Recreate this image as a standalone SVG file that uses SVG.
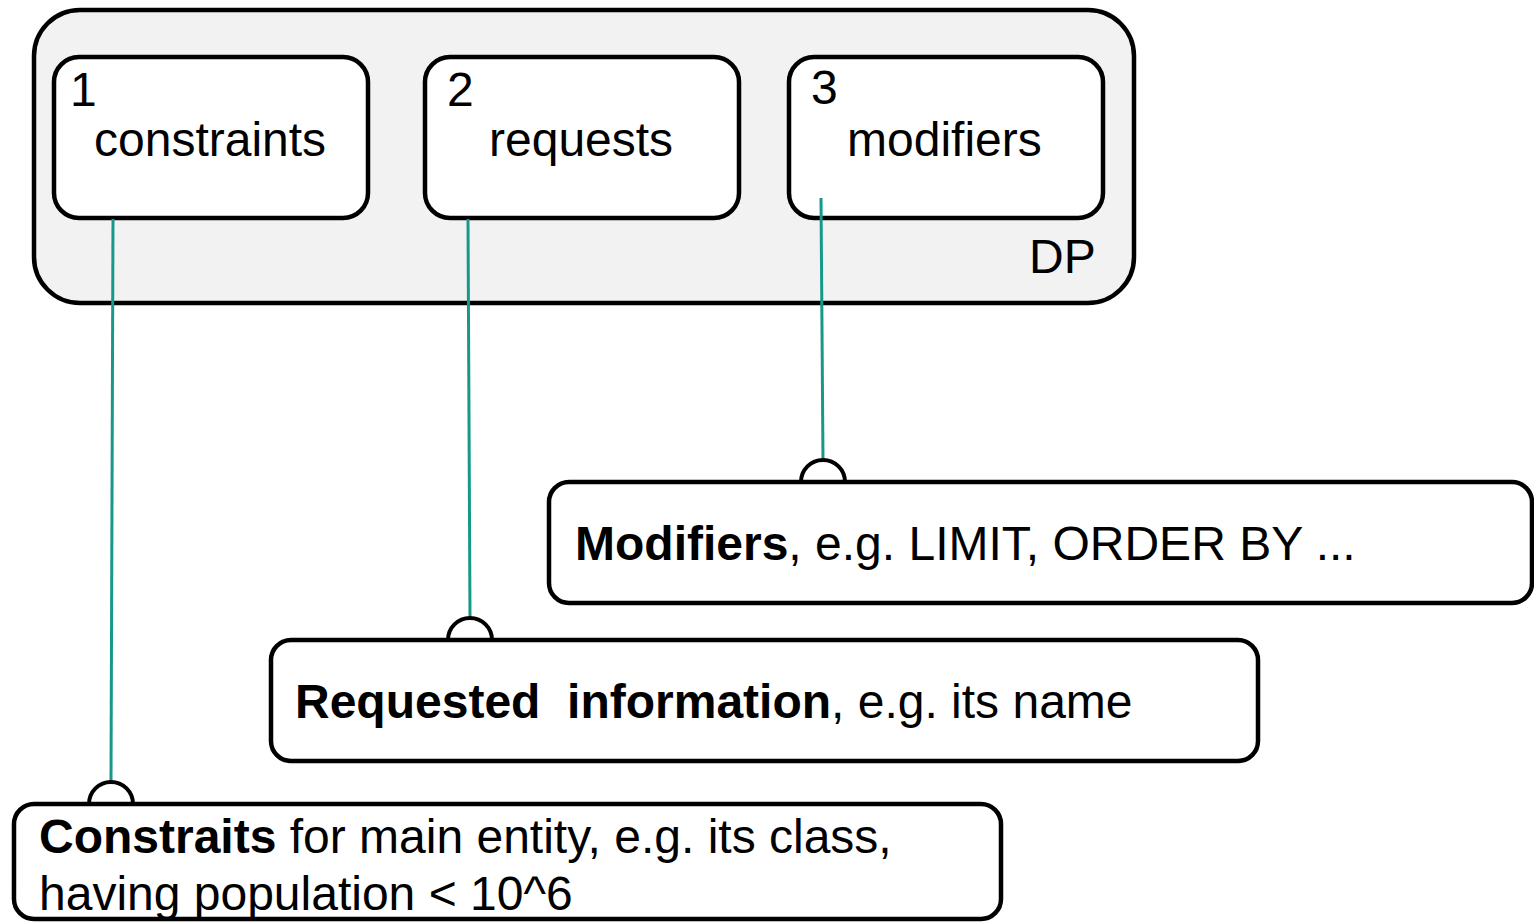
<svg xmlns="http://www.w3.org/2000/svg" width="1534" height="923" viewBox="0 0 1534 923">
  <style>
    .box { fill: #ffffff; stroke: #000000; stroke-width: 4.5; }
    .group { fill: #f2f2f2; stroke: #000000; stroke-width: 4.5; }
    .cap { fill: #ffffff; stroke: #000000; stroke-width: 4; }
    .link { stroke: #17998a; stroke-width: 3; fill: none; }
    text { font-family: "Liberation Sans", Arial, sans-serif; font-size: 48px; fill: #000000; }
    .b { font-weight: bold; }
  </style>
  <rect width="1534" height="923" fill="#ffffff"/>

  <!-- DP container -->
  <g id="dp">
    <rect class="group" x="34" y="10" width="1100" height="293" rx="46" ry="46"/>
    <text x="1029" y="273">DP</text>
  </g>

  <g id="constraints">
    <rect class="box" x="54" y="57" width="314" height="161" rx="25" ry="25"/>
    <text x="70" y="106">1</text>
    <text x="94" y="156">constraints</text>
  </g>

  <g id="requests">
    <rect class="box" x="425" y="57" width="314" height="161" rx="25" ry="25"/>
    <text x="447" y="106">2</text>
    <text x="489" y="156">requests</text>
  </g>

  <g id="modifiers">
    <rect class="box" x="789" y="57" width="314" height="161" rx="25" ry="25"/>
    <text x="811" y="104">3</text>
    <text x="847" y="156">modifiers</text>
  </g>

  <!-- connectors with socket ends -->
  <g id="connectors">
    <line class="link" x1="113" y1="219" x2="111" y2="781"/>
    <line class="link" x1="468" y1="219" x2="470" y2="618"/>
    <line class="link" x1="821" y1="198" x2="823" y2="460"/>
    <path class="cap" d="M89,804 A22,22 0 0 1 133,804"/>
    <path class="cap" d="M448,640 A22,22 0 0 1 492,640"/>
    <path class="cap" d="M801,482 A22,22 0 0 1 845,482"/>
  </g>

  <g id="modifiers-note">
    <rect class="box" x="549" y="482" width="983" height="121" rx="20" ry="20"/>
    <text x="575" y="560"><tspan class="b">Modifiers</tspan>, e.g. LIMIT, ORDER BY ...</text>
  </g>

  <g id="requested-note">
    <rect class="box" x="271" y="640" width="987" height="121" rx="20" ry="20"/>
    <text x="295" y="718" xml:space="preserve"><tspan class="b">Requested  information</tspan>, e.g. its name</text>
  </g>

  <g id="constraints-note">
    <rect class="box" x="14" y="804" width="987" height="115" rx="20" ry="20"/>
    <text x="39" y="853"><tspan class="b">Constraits</tspan> for main entity, e.g. its class,</text>
    <text x="39" y="910">having population &lt; 10^6</text>
  </g>
</svg>
